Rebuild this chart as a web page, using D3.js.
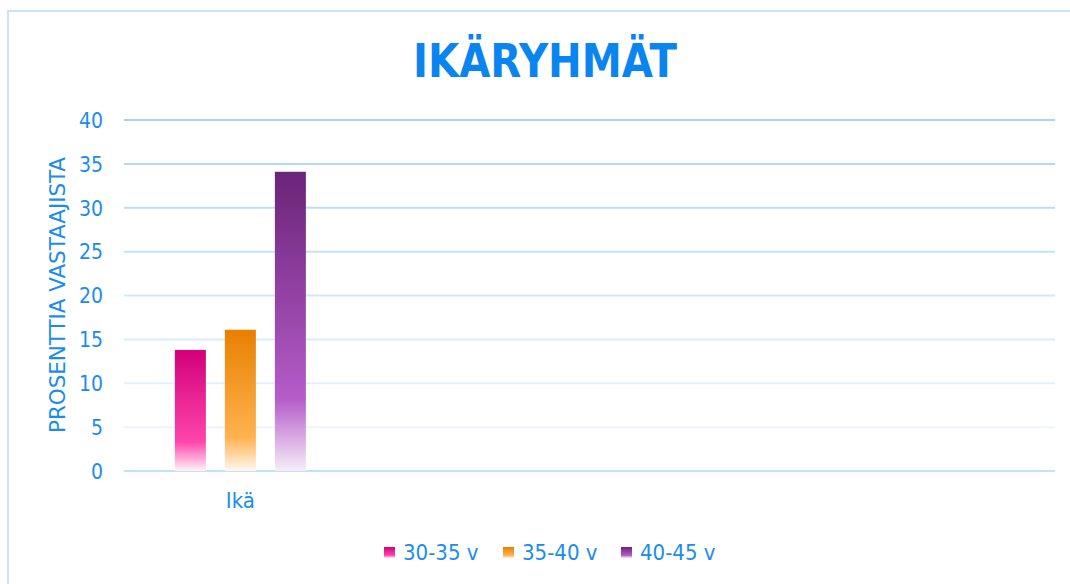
<!DOCTYPE html>
<html><head><meta charset="utf-8">
<script src="https://cdn.jsdelivr.net/npm/d3@7/dist/d3.min.js"></script>
<style>html,body{margin:0;padding:0;background:#fff;}svg{display:block;}</style>
</head><body>
<svg id="chart" width="1070" height="584"></svg>
<script>
const title = "IKÄRYHMÄT";
const yAxisTitle = "PROSENTTIA VASTAAJISTA";
const categories = ["Ikä", " ", "  ", "   "];
const seriesNames = ["30-35 v", "35-40 v", "40-45 v"];
const seriesValues = [
  [13.8, null, null, null],
  [16.1, null, null, null],
  [34.1, null, null, null]
];
const yTicks = [0, 5, 10, 15, 20, 25, 30, 35, 40];
const seriesColors = [
  ["#d2007a", "#ff45ab", "#fff4fa"],
  ["#e88000", "#ffb24f", "#fff8ef"],
  ["#6a2478", "#b55cc9", "#f6eef9"]
];

const svg = d3.select("#chart");
const W = 1070, H = 584;
const margin = {left: 124, right: 15, top: 120, bottom: 113};
const txt = "#1a8cf0";
const font = "'DejaVu Sans Condensed', 'DejaVu Sans', Verdana, sans-serif";

// frame
svg.append("rect").attr("x", 8).attr("y", 11).attr("width", 1080).attr("height", 600)
  .attr("fill", "#fff").attr("stroke", "#c9e3fb").attr("stroke-width", 2);

const defs = svg.append("defs");
seriesColors.forEach((c, i) => {
  const g = defs.append("linearGradient").attr("id", "g" + i)
    .attr("x1", 0).attr("y1", 0).attr("x2", 0).attr("y2", 1);
  g.append("stop").attr("offset", "0%").attr("stop-color", c[0]);
  g.append("stop").attr("offset", "76%").attr("stop-color", c[1]);
  g.append("stop").attr("offset", "100%").attr("stop-color", c[2]);
});

const x0 = d3.scaleBand().domain(categories).range([margin.left, W - margin.right]).paddingInner(0).paddingOuter(0);
const y = d3.scaleLinear().domain([0, 40]).range([H - margin.bottom, margin.top]);

// gridlines
const gridColor = d3.scaleLinear().domain([0, 5, 40]).range(["#ebf5fe", "#ebf5fe", "#a9d4f9"]);
svg.append("g").selectAll("line").data(yTicks).join("line")
  .attr("x1", margin.left).attr("x2", W - margin.right)
  .attr("y1", d => y(d)).attr("y2", d => y(d))
  .attr("stroke", d => d === 0 ? "#c4e0fb" : gridColor(d)).attr("stroke-width", 2);

// y axis labels
const yAxis = d3.axisLeft(y).tickValues(yTicks).tickSize(0).tickPadding(0);
const ya = svg.append("g").attr("transform", `translate(${103},0)`).call(yAxis);
ya.select(".domain").remove();
ya.selectAll("text").attr("fill", txt).attr("font-size", 21).attr("font-family", font).attr("dy", "0.35em");

// x axis labels
const xAxis = d3.axisBottom(x0).tickSize(0).tickPadding(0);
const xa = svg.append("g").attr("transform", `translate(0,${500})`).call(xAxis);
xa.select(".domain").remove();
xa.selectAll("text").attr("fill", txt).attr("font-size", 22).attr("font-family", font).attr("dy", "0.35em");

// bars
const barW = 31, gap = 19;
const groupW = barW * 3 + gap * 2;
seriesValues.forEach((vals, si) => {
  svg.append("g").selectAll("rect").data(vals.map((v, ci) => ({v, c: categories[ci]})).filter(d => d.v != null))
    .join("rect")
    .attr("x", d => x0(d.c) + x0.bandwidth() / 2 - groupW / 2 + si * (barW + gap))
    .attr("width", barW)
    .attr("y", d => y(d.v))
    .attr("height", d => y(0) - y(d.v))
    .attr("fill", `url(#g${si})`);
});

// title
svg.append("text").attr("x", 545).attr("y", 77).attr("text-anchor", "middle")
  .attr("font-family", font).attr("font-weight", "bold").attr("font-size", 47)
  .attr("fill", "#0a84ef").attr("textLength", 264).attr("lengthAdjust", "spacingAndGlyphs").text(title);

// y axis title
svg.append("text").attr("transform", `translate(65,295) rotate(-90)`).attr("text-anchor", "middle")
  .attr("font-family", font).attr("font-size", 22).attr("fill", txt)
  .attr("textLength", 276).attr("lengthAdjust", "spacingAndGlyphs").text(yAxisTitle);

// legend
const legX = [384, 503, 621];
const lg = svg.append("g");
seriesNames.forEach((n, i) => {
  lg.append("rect").attr("x", legX[i]).attr("y", 547).attr("width", 11).attr("height", 11).attr("fill", `url(#g${i})`);
  lg.append("text").attr("x", legX[i] + 19).attr("y", 552).attr("dy", "0.35em")
    .attr("font-family", font).attr("font-size", 22).attr("fill", txt).text(n);
});
</script>
</body></html>
